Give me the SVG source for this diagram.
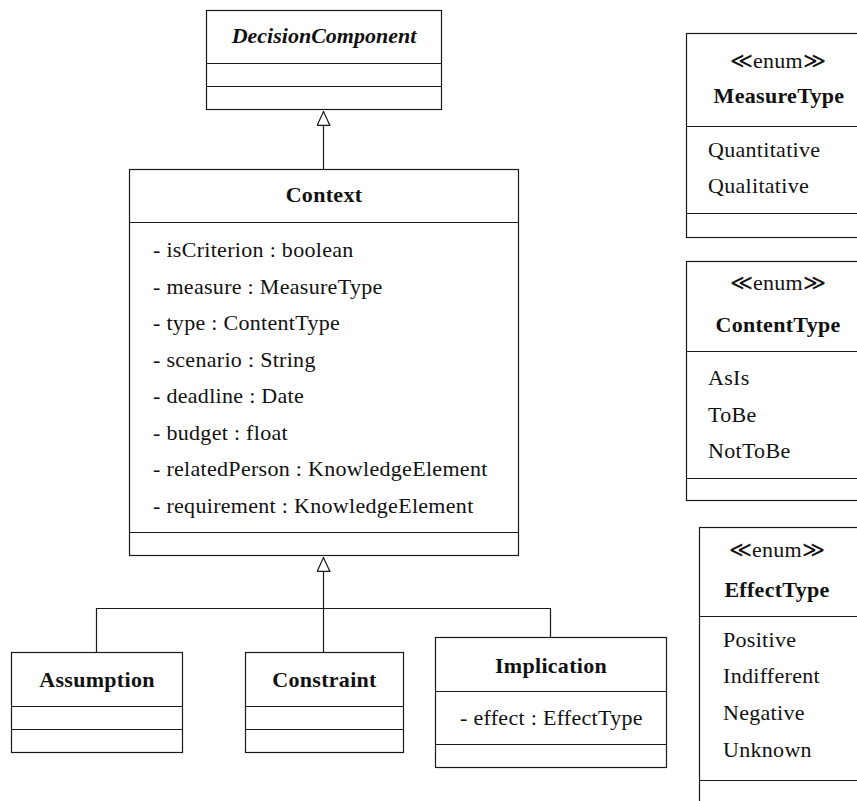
<svg xmlns="http://www.w3.org/2000/svg" width="857" height="801" viewBox="0 0 857 801">
  <style>
    .box { fill: #ffffff; stroke: #1a1a1a; stroke-width: 1.2; }
    .sep { stroke: #1a1a1a; stroke-width: 1.2; }
    .conn { fill: none; stroke: #1a1a1a; stroke-width: 1.2; }
    .title { font-weight: bold; text-anchor: middle; letter-spacing: 0.3px; }
    .abstract { font-style: italic; letter-spacing: 0; }
    .stereo { text-anchor: middle; }
  </style>
  <defs>
    <marker id="generalization" viewBox="0 0 15 14" refX="15" refY="7" markerWidth="15" markerHeight="14" markerUnits="userSpaceOnUse" orient="auto">
      <path d="M0.6,0.6 L14.4,7 L0.6,13.4 Z" fill="#ffffff" stroke="#1a1a1a" stroke-width="1.2"/>
    </marker>
  </defs>

  <g style="font-family: 'Liberation Serif', serif; font-size: 22px; fill: #111111; letter-spacing: 0.3px;">

    <!-- inheritance connectors -->
    <g id="connectors">
      <path class="conn" d="M323.5,169 V111" marker-end="url(#generalization)"/>
      <path class="conn" d="M323.5,652 V557" marker-end="url(#generalization)"/>
      <path class="conn" d="M96.5,652 V608.5 H550.5 V637"/>
    </g>

    <!-- abstract base class -->
    <g id="DecisionComponent">
      <rect class="box" x="206.5" y="10.5" width="235" height="99"/>
      <line class="sep" x1="206.5" y1="63.5" x2="441.5" y2="63.5"/>
      <line class="sep" x1="206.5" y1="86.5" x2="441.5" y2="86.5"/>
      <text class="title abstract" x="324" y="43">DecisionComponent</text>
    </g>

    <g id="Context">
      <rect class="box" x="129.5" y="169.5" width="389" height="386"/>
      <line class="sep" x1="129.5" y1="222.5" x2="518.5" y2="222.5"/>
      <line class="sep" x1="129.5" y1="532.5" x2="518.5" y2="532.5"/>
      <text class="title" x="324" y="202">Context</text>
      <text x="153" y="257">- isCriterion : boolean</text>
      <text x="153" y="293.5">- measure : MeasureType</text>
      <text x="153" y="330">- type : ContentType</text>
      <text x="153" y="366.5">- scenario : String</text>
      <text x="153" y="403">- deadline : Date</text>
      <text x="153" y="439.5">- budget : float</text>
      <text x="153" y="476">- relatedPerson : KnowledgeElement</text>
      <text x="153" y="512.5">- requirement : KnowledgeElement</text>
    </g>

    <g id="Assumption">
      <rect class="box" x="11.5" y="652.5" width="171" height="100"/>
      <line class="sep" x1="11.5" y1="706.5" x2="182.5" y2="706.5"/>
      <line class="sep" x1="11.5" y1="729.5" x2="182.5" y2="729.5"/>
      <text class="title" x="97" y="687">Assumption</text>
    </g>

    <g id="Constraint">
      <rect class="box" x="245.5" y="652.5" width="158" height="100"/>
      <line class="sep" x1="245.5" y1="706.5" x2="403.5" y2="706.5"/>
      <line class="sep" x1="245.5" y1="729.5" x2="403.5" y2="729.5"/>
      <text class="title" x="324.5" y="687">Constraint</text>
    </g>

    <g id="Implication">
      <rect class="box" x="435.5" y="637.5" width="231" height="130"/>
      <line class="sep" x1="435.5" y1="691.5" x2="666.5" y2="691.5"/>
      <line class="sep" x1="435.5" y1="744.5" x2="666.5" y2="744.5"/>
      <text class="title" x="551" y="673">Implication</text>
      <text x="460" y="725">- effect : EffectType</text>
    </g>

    <!-- enumerations, running past the right edge -->
    <g id="MeasureType">
      <rect class="box" x="686.5" y="33.5" width="186" height="204"/>
      <line class="sep" x1="686.5" y1="126.5" x2="872.5" y2="126.5"/>
      <line class="sep" x1="686.5" y1="213.5" x2="872.5" y2="213.5"/>
      <text class="stereo" x="778" y="68">≪enum≫</text>
      <text class="title" x="779" y="103">MeasureType</text>
      <text x="708" y="157">Quantitative</text>
      <text x="708" y="193">Qualitative</text>
    </g>

    <g id="ContentType">
      <rect class="box" x="686.5" y="261.5" width="186" height="239"/>
      <line class="sep" x1="686.5" y1="351.5" x2="872.5" y2="351.5"/>
      <line class="sep" x1="686.5" y1="478.5" x2="872.5" y2="478.5"/>
      <text class="stereo" x="778" y="290">≪enum≫</text>
      <text class="title" x="778" y="332">ContentType</text>
      <text x="708" y="385">AsIs</text>
      <text x="708" y="422">ToBe</text>
      <text x="708" y="458">NotToBe</text>
    </g>

    <g id="EffectType">
      <rect class="box" x="699.5" y="527.5" width="160" height="290"/>
      <line class="sep" x1="699.5" y1="616.5" x2="859.5" y2="616.5"/>
      <line class="sep" x1="699.5" y1="780.5" x2="859.5" y2="780.5"/>
      <text class="stereo" x="777" y="557">≪enum≫</text>
      <text class="title" x="777" y="597">EffectType</text>
      <text x="723" y="647">Positive</text>
      <text x="723" y="683">Indifferent</text>
      <text x="723" y="720">Negative</text>
      <text x="723" y="757">Unknown</text>
    </g>
  </g>
</svg>
